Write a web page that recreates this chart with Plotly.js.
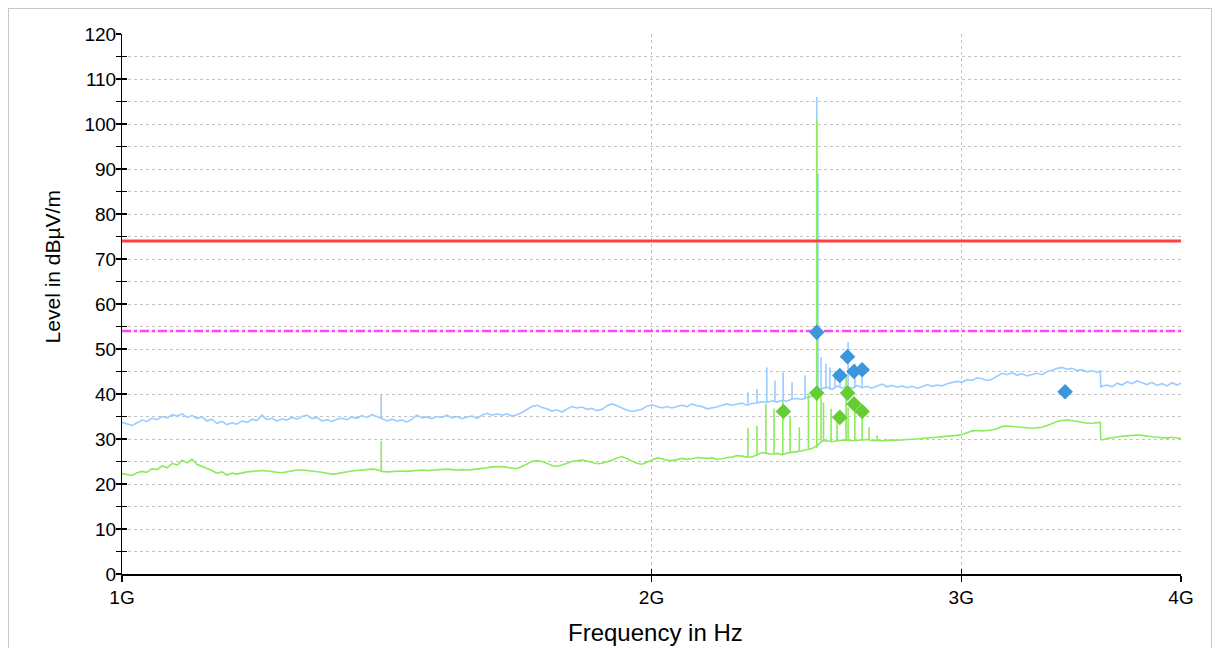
<!DOCTYPE html>
<html>
<head>
<meta charset="utf-8">
<script src="https://cdn.plot.ly/plotly-3.0.1.min.js"></script>
<style>
html,body{margin:0;padding:0;background:#fff;}
#wrap{position:relative;width:1215px;height:648px;overflow:hidden;}
#chart{width:1215px;height:648px;}
#frame{position:absolute;left:8px;top:8px;width:1202px;height:660px;border:1px solid #c8c8c8;pointer-events:none;}
</style>
</head>
<body>
<div id="wrap"><div id="chart"></div><div id="frame"></div></div>
<script>
// Frequency grid in MHz
const freqMHz = [
1000,1007,1013,1020,1027,1033,1040,1047,1054,1061,
1068,1075,1082,1089,1096,1103,1110,1118,1125,1132,
1140,1147,1155,1162,1170,1178,1186,1193,1201,1209,
1217,1225,1233,1241,1249,1258,1266,1274,1282,1291,
1299,1308,1316,1325,1334,1343,1351,1360,1369,1378,
1387,1396,1405,1415,1424,1433,1443,1452,1462,1471,
1481,1491,1500,1510,1520,1530,1540,1550,1561,1571,
1581,1592,1602,1613,1623,1634,1645,1655,1666,1677,
1688,1699,1710,1722,1733,1744,1756,1767,1779,1791,
1802,1814,1826,1838,1850,1862,1875,1887,1899,1912,
1924,1937,1950,1962,1975,1988,2001,2015,2028,2041,
2054,2068,2082,2095,2109,2123,2137,2151,2165,2179,
2193,2208,2222,2237,2252,2266,2281,2296,2311,2327,
2342,2357,2373,2388,2404,2420,2436,2452,2468,2484,
2500,2517,2533,2550,2567,2583,2600,2617,2635,2652,
2669,2687,2705,2722,2740,2758,2776,2795,2813,2831,
2850,2869,2887,2906,2925,2945,2964,2983,3003,3023,
3043,3063,3083,3103,3123,3144,3165,3185,3206,3227,
3248,3270,3291,3313,3335,3357,3379,3401,3423,3446,
3468,3491,3514,3537,3560,3584,3599,3601,3607,3631,3655,3679,
3703,3727,3752,3776,3801,3826,3851,3876,3902,3928,
3953,3979,4000
];
// Peak (MaxPeak) level in dBµV/m
const peakLevel = [
33.7,33.4,33.0,33.6,34.2,33.9,34.6,34.3,35.0,34.7,
35.4,35.1,35.6,34.8,35.2,34.6,34.9,34.0,34.4,33.5,
33.9,33.2,33.6,33.3,34.0,33.7,34.4,34.1,35.3,34.3,
34.6,34.0,34.5,34.2,34.8,34.4,35.0,35.3,34.5,34.8,
34.0,34.3,33.9,34.4,34.6,34.3,34.9,34.6,35.2,34.8,
35.4,35.0,34.6,34.0,34.4,34.0,34.2,33.8,34.4,35.3,
34.7,34.9,34.5,35.0,34.8,35.3,34.7,35.0,34.5,34.9,
35.1,34.6,35.3,35.7,35.3,35.6,35.3,35.6,35.1,35.4,
35.9,36.6,37.2,37.5,37.0,36.7,36.2,36.5,36.0,36.7,
37.2,36.9,37.1,36.6,36.8,36.3,36.6,37.4,37.8,37.4,
36.9,36.4,36.1,36.3,36.6,37.3,37.6,37.2,36.9,37.2,
36.9,37.2,37.5,37.2,37.8,37.4,37.2,36.7,36.9,37.1,
37.5,37.8,37.5,37.8,38.0,37.5,37.9,38.0,38.3,38.1,
38.5,38.2,38.6,38.4,38.9,39.0,38.8,39.2,39.5,40.5,
41.2,41.5,41.0,41.8,41.3,41.7,41.2,41.9,41.4,41.7,
41.3,41.8,42.2,41.6,41.9,41.5,41.8,41.4,41.7,41.3,
41.6,42.1,41.7,42.0,41.8,42.3,42.5,42.8,42.6,43.2,
43.0,43.6,43.4,43.0,43.3,44.0,44.6,44.3,44.7,44.2,
44.5,44.0,44.3,44.6,44.3,45.0,45.3,45.7,45.9,45.5,
45.7,45.2,45.4,44.9,45.2,44.8,45.1,41.5,41.7,42.0,41.6,42.4,
42.0,42.7,42.3,42.9,42.5,42.1,42.6,41.9,42.3,41.8,
42.5,42.0,42.4
];
// Average level in dBµV/m
const avgLevel = [
22.3,22.0,21.9,22.5,22.8,22.6,23.4,23.2,24.0,23.6,
24.6,24.2,25.3,24.7,25.5,24.4,24.0,23.4,23.0,22.4,
22.7,22.0,22.4,22.2,22.5,22.7,22.8,22.9,23.0,22.9,
22.7,22.6,22.5,22.7,22.9,23.1,23.1,23.0,22.9,22.8,
22.6,22.4,22.2,22.3,22.5,22.8,22.9,23.0,23.1,23.2,
23.3,23.2,22.8,22.7,22.8,22.9,22.9,22.8,22.9,23.0,
23.1,23.0,23.1,23.2,23.2,23.3,23.2,23.1,23.2,23.1,
23.2,23.3,23.4,23.6,23.8,23.9,23.9,23.7,23.5,23.4,
23.9,24.5,25.0,25.2,25.0,24.6,24.1,23.9,24.2,24.6,
25.0,25.2,25.3,25.1,24.8,24.5,24.6,24.9,25.3,25.8,
26.1,25.6,25.0,24.6,24.4,24.8,25.3,25.8,25.6,25.3,
25.2,25.5,25.7,25.5,25.6,25.9,25.8,25.7,25.8,25.5,
25.6,25.9,26.0,26.3,26.2,26.0,26.0,26.5,27.0,26.8,
26.6,26.8,26.5,26.9,27.0,27.2,27.4,27.6,27.9,28.5,
29.5,29.6,29.4,29.6,29.7,29.8,29.6,29.7,29.8,29.9,
29.7,29.6,29.6,29.7,29.7,29.8,29.8,29.9,29.9,30.0,
30.1,30.2,30.2,30.3,30.4,30.5,30.6,30.8,31.0,31.4,
31.8,31.9,31.8,31.9,32.0,32.3,32.8,32.9,32.8,32.7,
32.6,32.4,32.4,32.5,32.6,33.0,33.5,33.9,34.1,34.2,
34.1,33.9,33.7,33.5,33.5,33.6,33.7,29.9,29.8,30.1,30.3,30.5,
30.6,30.7,30.8,30.9,30.8,30.6,30.5,30.4,30.3,30.2,
30.4,30.2,30.1
];
// Narrow spikes (frequency MHz, base level, top level)
const peakSpikeFreq = [1404,2269,2296,2326,2351,2376,2404,2445,2483,2487,2497,2513,2526,2543,2560,2587,2610,2635];
const peakSpikeBase = [34.6,37.9,38.0,38.1,38.2,38.5,38.9,39.0,39.6,40.0,41.0,41.2,41.3,41.2,41.4,41.5,41.4,41.5];
const peakSpikeTop  = [39.8,40.4,41.1,45.9,43.0,44.8,42.6,44.1,106.0,89.0,48.2,46.7,45.9,45.2,45.0,51.5,46.7,46.7];
const avgSpikeFreq = [1404,2269,2296,2323,2348,2375,2398,2427,2456,2483,2497,2505,2530,2550,2580,2587,2610,2635,2659,2687];
const avgSpikeBase = [22.8,26.0,26.3,26.9,26.7,26.6,27.0,27.2,27.7,28.0,29.5,29.5,29.5,29.6,29.6,29.7,29.6,29.7,29.8,29.7];
const avgSpikeTop  = [29.6,32.5,32.9,37.8,36.7,38.5,34.8,32.6,40.0,101.0,39.2,38.1,36.7,35.9,44.1,37.0,37.8,36.7,32.6,30.8];
// Final measurements
const peakFinalFreq = [2483,2559,2585,2607,2635,3437];
const peakFinalLevel = [53.7,44.1,48.3,45.0,45.4,40.5];
const avgFinalFreq = [2377,2483,2559,2585,2607,2635];
const avgFinalLevel = [36.1,40.2,34.8,40.2,37.8,36.1];
// Limit lines
const limitFreq = [1000,4000];
const peakLimit = [74,74];
const avgLimit = [54,54];
// Axis ticks and titles
const xTickVals = [1000,2000,3000,4000];
const xTickText = ['1G','2G','3G','4G'];
const yTickVals = [0,5,10,15,20,25,30,35,40,45,50,55,60,65,70,75,80,85,90,95,100,105,110,115,120];
const yTickText = ['0','','10','','20','','30','','40','','50','','60','','70','','80','','90','','100','','110','','120'];
const xTitle = 'Frequency in Hz';
const yTitle = 'Level in dBµV/m';

function spikes(f, lo, hi){
  const x=[], y=[];
  for(let i=0;i<f.length;i++){ x.push(f[i],f[i],null); y.push(lo[i],hi[i],null); }
  return {x, y};
}
const BLUE='#99CCFF', GREEN='#8CEB5A';
const ps = spikes(peakSpikeFreq, peakSpikeBase, peakSpikeTop);
const as = spikes(avgSpikeFreq, avgSpikeBase, avgSpikeTop);

const traces = [
  {x:freqMHz, y:peakLevel, mode:'lines', line:{color:BLUE,width:1.6}, hoverinfo:'skip'},
  {x:ps.x, y:ps.y, mode:'lines', line:{color:BLUE,width:1.6}, connectgaps:false, hoverinfo:'skip'},
  {x:freqMHz, y:avgLevel, mode:'lines', line:{color:GREEN,width:1.6}, hoverinfo:'skip'},
  {x:as.x, y:as.y, mode:'lines', line:{color:GREEN,width:1.6}, connectgaps:false, hoverinfo:'skip'},
  {x:limitFreq, y:peakLimit, mode:'lines', line:{color:'#FF4040',width:3}, hoverinfo:'skip'},
  {x:limitFreq, y:avgLimit, mode:'lines', line:{color:'#FF44FF',width:2.5,dash:'9px,3px,3px,3px'}, hoverinfo:'skip'},
  {x:peakFinalFreq, y:peakFinalLevel, mode:'markers', marker:{symbol:'diamond',size:12,color:'#3A96DD'}, hoverinfo:'skip'},
  {x:avgFinalFreq, y:avgFinalLevel, mode:'markers', marker:{symbol:'diamond',size:12,color:'#66CC33'}, hoverinfo:'skip'},
  {x:[1000], y:[0], xaxis:'x2', yaxis:'y2', mode:'markers', marker:{opacity:0}, hoverinfo:'skip'},
  {x:[1000], y:[0], xaxis:'x', yaxis:'y3', mode:'markers', marker:{opacity:0}, hoverinfo:'skip'}
];
const FAM = 'Liberation Sans, Arial, sans-serif';
const tf = {family:FAM, size:19, color:'#000'};
const layout = {
  width:1215, height:648,
  margin:{l:122, r:34, t:34, b:74},
  paper_bgcolor:'#fff', plot_bgcolor:'#fff',
  showlegend:false,
  font:{family:FAM, color:'#000'},
  xaxis:{type:'log', range:[Math.log10(1000), Math.log10(4000)], tickmode:'array', tickvals:xTickVals, ticktext:xTickText,
    showline:true, linecolor:'#000', linewidth:1.5, ticks:'outside', ticklen:6, tickcolor:'#000', tickwidth:1.2,
    showgrid:true, gridcolor:'#c4c4c4', griddash:'dot', gridwidth:1, zeroline:false, tickfont:tf},
  yaxis:{range:[0,120], tickmode:'array', tickvals:yTickVals, showticklabels:false,
    showline:true, linecolor:'#000', linewidth:1.5, ticks:'outside', ticklen:5, tickcolor:'#000', tickwidth:1.2,
    showgrid:true, gridcolor:'#c4c4c4', griddash:'dot', gridwidth:1, zeroline:false},
  xaxis2:{type:'log', overlaying:'x', range:[Math.log10(1000), Math.log10(4000)], tickmode:'array', tickvals:xTickVals,
    showticklabels:false, ticks:'inside', ticklen:5, tickcolor:'#000', tickwidth:1.2, showgrid:false, zeroline:false, showline:false, anchor:'y2', side:'bottom'},
  yaxis2:{overlaying:'y', range:[0,120], tickmode:'array', tickvals:yTickVals, showticklabels:false,
    ticks:'inside', ticklen:5, tickcolor:'#000', tickwidth:1.2, showgrid:false, zeroline:false, showline:false, anchor:'x2', side:'left'},
  yaxis3:{overlaying:'y', range:[0,120], tickmode:'array', tickvals:yTickVals, ticktext:yTickText, showticklabels:true,
    ticks:'outside', ticklen:2, tickcolor:'rgba(0,0,0,0)', showgrid:false, zeroline:false, showline:false, anchor:'free', position:0, side:'left', tickfont:tf},
  annotations:[
    {text:xTitle, xref:'paper', yref:'paper', x:0.504, y:-0.109, xanchor:'center', yanchor:'middle', showarrow:false,
     font:{family:FAM, size:24, color:'#000'}},
    {text:yTitle, xref:'paper', yref:'paper', x:-0.066, y:0.568, xanchor:'center', yanchor:'middle', textangle:-90, showarrow:false,
     font:{family:FAM, size:21, color:'#000'}}
  ]
};
Plotly.newPlot('chart', traces, layout, {staticPlot:true, displayModeBar:false});
</script>
</body>
</html>
